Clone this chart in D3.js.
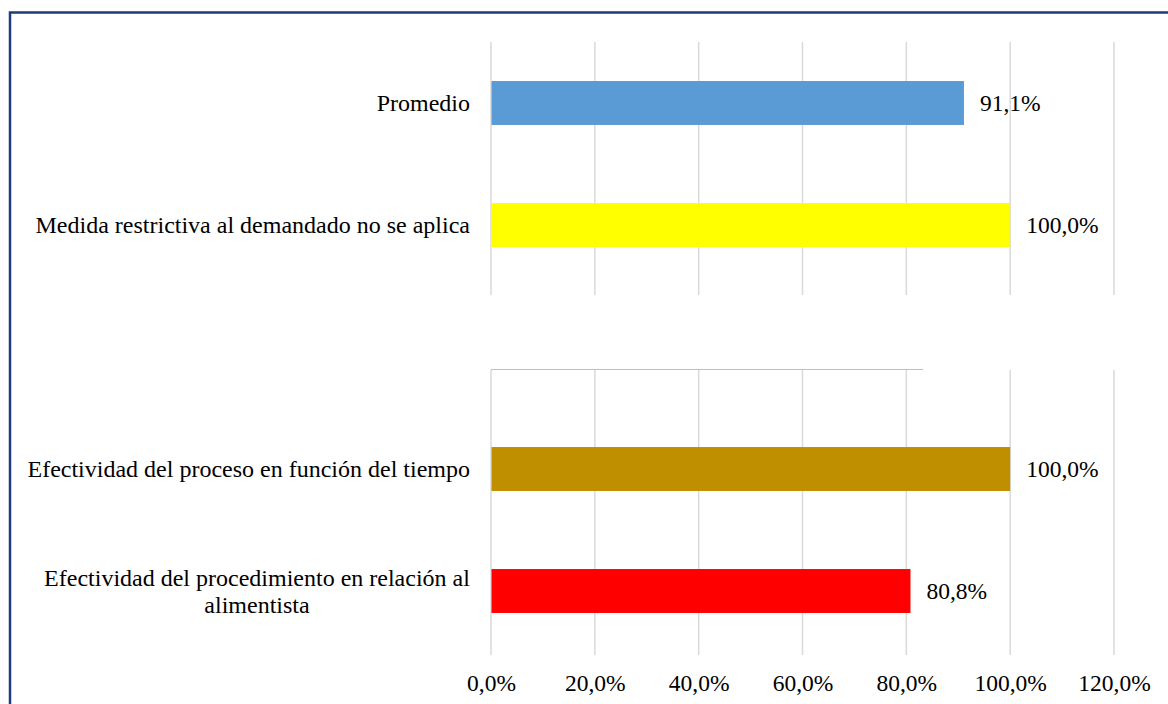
<!DOCTYPE html>
<html>
<head>
<meta charset="utf-8">
<script src="https://cdn.jsdelivr.net/npm/d3@7"></script>
<style>
  body { margin: 0; background: #fff; }
  svg text { font-family: "Liberation Serif", "Times New Roman", "DejaVu Serif", serif; fill: #000; }
</style>
</head>
<body>
<script>
// Data: the top panel and the bottom panel
var topCategories = ["Promedio", "Medida restrictiva al demandado no se aplica"];
var topValues = [91.1, 100.0];
var topColors = ["#5b9bd5", "#ffff00"];

var bottomCategories = [
  ["Efectividad del proceso en función del tiempo"],
  ["Efectividad del procedimiento en relación al", "alimentista"]
];
var bottomValues = [100.0, 80.8];
var bottomColors = ["#bf8f00", "#ff0000"];

var tickValues = [0, 20, 40, 60, 80, 100, 120];

var serif = "'Liberation Serif', 'Times New Roman', 'DejaVu Serif', serif";
var labelSize = 24;
var numberSize = 23.5;

// SVG size
var svgWidth = 1168;
var svgHeight = 704;

var svg = d3.select("body")
  .append("svg")
  .attr("width", svgWidth)
  .attr("height", svgHeight)
  .style("font-family", serif);

// frame (only top and left edges are visible)
svg.append("path")
  .attr("d", "M10,704 V12.5 H1168")
  .attr("fill", "none")
  .attr("stroke", "#1f3a7d")
  .attr("stroke-width", 2.5);

var fmt = function(v) { return v.toFixed(1).replace(".", ",") + "%"; };

// shared x scale
var x = d3.scaleLinear()
  .domain([0, 120])
  .range([491, 1114]);

// y scales for the two panels
var yTop = d3.scaleBand()
  .domain(d3.range(topCategories.length))
  .range([42, 286])
  .paddingInner(0.64)
  .paddingOuter(0.32);

var yBottom = d3.scaleBand()
  .domain(d3.range(bottomCategories.length))
  .range([408, 652])
  .paddingInner(0.64)
  .paddingOuter(0.32);

function gridlines(y0, y1) {
  svg.append("g")
    .selectAll("line")
    .data(tickValues)
    .enter()
    .append("line")
    .attr("x1", d => x(d))
    .attr("x2", d => x(d))
    .attr("y1", y0)
    .attr("y2", y1)
    .attr("stroke", "#d9d9d9")
    .attr("stroke-width", 1.5);
}

gridlines(42, 295);
gridlines(370, 655);

// thin line over the lower panel
svg.append("line")
  .attr("x1", x(0))
  .attr("x2", 923)
  .attr("y1", 369.5)
  .attr("y2", 369.5)
  .attr("stroke", "#f2c12e")
  .attr("stroke-width", 1);

function drawBars(values, colors, y) {
  var g = svg.append("g");
  g.selectAll("rect")
    .data(values)
    .enter()
    .append("rect")
    .attr("x", x(0) + 0.5)
    .attr("y", (d, i) => y(i))
    .attr("width", d => x(d) - x(0) - 0.5)
    .attr("height", y.bandwidth())
    .attr("fill", (d, i) => colors[i]);

  g.selectAll("text")
    .data(values)
    .enter()
    .append("text")
    .attr("x", d => x(d) + 16)
    .attr("y", (d, i) => y(i) + y.bandwidth() / 2)
    .attr("dy", "0.35em")
    .attr("font-family", serif)
    .attr("font-size", numberSize)
    .text(d => fmt(d));
}

drawBars(topValues, topColors, yTop);
drawBars(bottomValues, bottomColors, yBottom);

// category labels
svg.append("g")
  .selectAll("text")
  .data(topCategories)
  .enter()
  .append("text")
  .attr("x", 470)
  .attr("y", (d, i) => yTop(i) + yTop.bandwidth() / 2)
  .attr("dy", "0.35em")
  .attr("text-anchor", "end")
  .attr("font-family", serif)
  .attr("font-size", labelSize)
  .text(d => d);

bottomCategories.forEach(function(lines, i) {
  var cy = yBottom(i) + yBottom.bandwidth() / 2;
  var multi = lines.length > 1;
  var t = svg.append("text")
    .attr("font-family", serif)
    .attr("font-size", labelSize)
    .attr("text-anchor", multi ? "middle" : "end");
  lines.forEach(function(line, j) {
    t.append("tspan")
      .attr("x", multi ? 257 : 470)
      .attr("y", cy + (j - (lines.length - 1) / 2) * 27)
      .attr("dy", "0.35em")
      .text(line);
  });
});

// bottom axis tick labels
var bottomAxis = d3.axisBottom(x)
  .tickValues(tickValues)
  .tickSize(0)
  .tickPadding(0)
  .tickFormat(fmt);

var axisG = svg.append("g")
  .attr("transform", "translate(0, 674)")
  .call(bottomAxis)
  .attr("font-family", serif)
  .attr("font-size", numberSize);
axisG.select(".domain").remove();
axisG.selectAll("text")
  .attr("fill", "#000");
</script>
</body>
</html>
